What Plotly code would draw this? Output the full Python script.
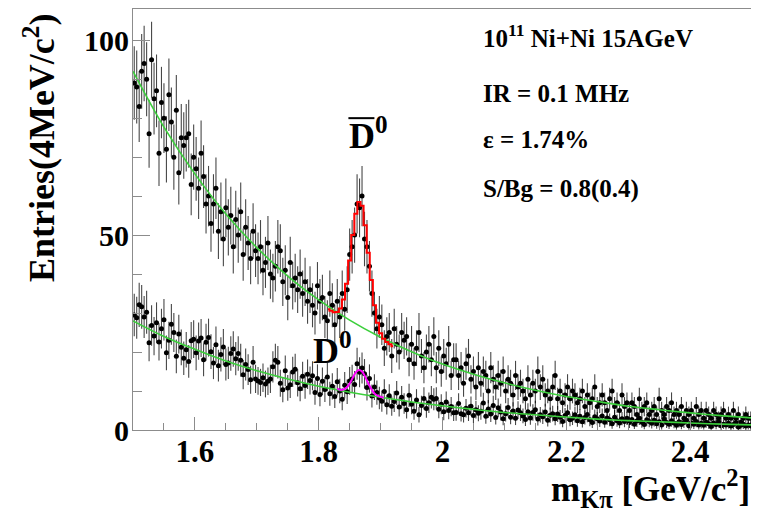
import numpy as np
import plotly.graph_objects as go

# ---- data -------------------------------------------------------------
bin_lo, bin_w, n_bins = 1.5, 0.004, 250
mass = [round(bin_lo + bin_w * (i + 0.5), 4) for i in range(n_bins)]

dbar_counts = [
    89, 88, 83, 92, 94, 90, 76, 95, 85, 87,
    71, 84, 80, 72, 86, 79, 70, 82, 66, 75,
    73, 75, 76, 63, 70, 67, 62, 71, 65, 58,
    60, 53, 58, 62, 51, 56, 49, 57, 52, 55,
    47, 54, 50, 56, 45, 52, 48, 44, 51, 46,
    44, 47, 41, 43, 48, 40, 39, 42, 47, 46,
    38, 41, 34, 43, 37, 39, 36, 40, 35, 38,
    33, 36, 32, 30, 37, 33, 34, 29, 28, 35,
    32, 27, 33, 29, 35, 31, 36, 45, 47, 50,
    58, 57, 60, 49, 47, 42, 35, 30, 26, 29,
    27, 21, 24, 25, 19, 26, 22, 20, 25, 23,
    24, 18, 22, 17, 21, 25, 19, 16, 20, 22,
    18, 24, 16, 21, 15, 19, 17, 22, 14, 18,
    18, 14, 16, 12, 17, 19, 13, 15, 11, 16,
    12, 15, 14, 10, 16, 13, 11, 14, 12, 15,
    10, 13, 12, 9, 14, 11, 12, 10, 8, 13,
    9, 12, 10, 15, 11, 13, 9, 10, 8, 11,
    14, 8, 10, 7, 9, 11, 8, 10, 9, 7,
    8, 10, 6, 9, 7, 8, 11, 6, 7, 9,
    7, 5, 8, 10, 6, 7, 5, 9, 6, 7,
    5, 7, 6, 4, 8, 5, 6, 7, 4, 5,
    6, 4, 8, 5, 4, 6, 5, 7, 4, 5,
    4, 6, 3, 5, 4, 5, 3, 6, 4, 5,
    3, 5, 4, 3, 5, 4, 3, 4, 5, 3,
    4, 3, 5, 3, 4, 2, 3, 4, 3, 3,
]

d0_counts = [
    29.5, 28.8, 32.1, 31.6, 29.0, 30.2, 22.4, 26.8, 24.1, 27.5,
    22.6, 26.0, 28.3, 19.8, 23.0, 27.1, 25.0, 18.9, 24.6, 21.2,
    18.4, 20.6, 17.6, 22.9, 23.3, 19.8, 22.8, 23.6, 18.0, 22.5,
    23.7, 20.1, 17.2, 21.9, 16.5, 19.4, 21.3, 16.8, 17.2, 19.6,
    20.8, 18.3, 19.6, 17.9, 14.2, 16.8, 15.5, 12.9, 17.4, 13.1,
    12.6, 12.2, 13.4, 11.8, 12.5, 13.1, 16.2, 17.9, 17.4, 12.0,
    10.3, 15.2, 10.8, 11.6, 14.9, 15.6, 12.1, 10.6, 13.8, 11.4,
    14.3, 12.7, 13.9, 9.6, 13.2, 9.1, 12.5, 10.4, 13.6, 9.3,
    11.2, 8.6, 12.4, 10.0, 7.9, 11.5, 9.8, 12.6, 13.1, 11.7,
    17.0, 14.8, 15.9, 14.4, 10.9, 13.2, 8.7, 11.0, 9.6, 8.2,
    7.4, 9.9, 6.5, 8.8, 6.1, 7.3, 9.5, 5.9, 8.4, 6.8,
    5.2, 8.9, 6.6, 4.8, 7.7, 3.9, 6.3, 8.1, 5.5, 7.0,
    8.4, 7.9, 8.1, 5.3, 6.6, 4.7, 7.2, 5.0, 6.0, 4.4,
    4.5, 6.8, 4.2, 3.9, 5.6, 4.4, 6.1, 3.7, 5.2, 4.3,
    4.8, 6.9, 3.5, 5.4, 4.1, 6.3, 3.2, 5.7, 4.6, 2.9,
    4.2, 5.8, 3.3, 4.9, 3.0, 5.1, 4.4, 3.6, 2.7, 4.7,
    3.1, 4.5, 5.2, 2.8, 3.9, 3.4, 4.6, 2.5, 3.8, 4.2,
    2.9, 4.1, 3.3, 2.2, 3.7, 4.4, 2.6, 3.0, 3.9, 2.4,
    3.5, 2.1, 3.2, 4.0, 2.6, 1.9, 3.4, 2.9, 2.3, 3.6,
    2.0, 3.1, 2.6, 1.6, 3.3, 2.4, 1.8, 2.9, 2.2, 3.0,
    1.9, 2.7, 1.5, 2.3, 3.0, 2.0, 1.4, 2.6, 2.2, 1.7,
    2.5, 1.6, 2.1, 1.3, 2.8, 1.9, 1.5, 2.4, 1.8, 1.2,
    2.1, 1.4, 1.9, 2.5, 1.1, 1.8, 1.5, 2.2, 1.3, 1.7,
    1.2, 2.0, 1.6, 0.9, 1.8, 1.4, 2.1, 1.1, 1.5, 1.3,
    1.7, 1.0, 1.4, 1.9, 0.8, 1.2, 1.5, 1.0, 1.3, 1.1,
]

# background fits (green)
fit_mass = [1.50, 1.55, 1.60, 1.65, 1.70, 1.75, 1.80, 1.85, 1.90, 1.95, 2.00,
            2.05, 2.10, 2.15, 2.20, 2.25, 2.30, 2.35, 2.40, 2.45, 2.50]
dbar_bg_fit = [92.0, 77.7, 65.7, 55.4, 46.8, 39.5, 33.4, 28.2, 23.8, 20.1, 16.9,
               14.3, 12.1, 10.2, 8.6, 7.3, 6.1, 5.2, 4.4, 3.7, 3.1]
d0_bg_fit = [28.0, 24.0, 20.7, 17.7, 15.2, 13.1, 11.2, 9.7, 8.4, 7.2, 6.2,
             5.3, 4.5, 3.9, 3.3, 2.8, 2.4, 2.1, 1.8, 1.5, 1.3]

# signal + background fits
peak_mass = [1.815, 1.820, 1.825, 1.830, 1.835, 1.840, 1.845, 1.850, 1.855, 1.860, 1.865,
             1.870, 1.875, 1.880, 1.885, 1.890, 1.895, 1.900, 1.905, 1.910, 1.915, 1.920]
dbar_peak_fit = [31.0, 30.6, 30.2, 30.3, 31.2, 33.5, 37.5, 43.5, 50.0, 55.5, 58.5,
                 57.5, 52.5, 45.5, 38.5, 32.0, 27.5, 24.8, 23.4, 22.6, 22.0, 21.5]
d0_peak_mass = [1.830, 1.835, 1.840, 1.845, 1.850, 1.855, 1.860, 1.865, 1.870,
                1.875, 1.880, 1.885, 1.890, 1.895, 1.900, 1.905]
d0_peak_fit = [10.6, 10.3, 10.4, 10.9, 11.9, 13.4, 14.8, 15.4, 15.0,
               13.7, 12.0, 10.5, 9.4, 8.8, 8.5, 8.3]

info_lines = ["10<sup>11</sup> Ni+Ni 15AGeV", "IR = 0.1 MHz", "ε = 1.74%", "S/Bg = 0.8(0.4)"]

# ---- figure -----------------------------------------------------------
SERIF = "Liberation Serif"
fig = go.Figure()

for counts in (dbar_counts, d0_counts):
    c = np.array(counts, dtype=float)
    fig.add_trace(go.Scatter(
        x=mass, y=c, mode="markers",
        marker=dict(color="black", size=5),
        error_y=dict(type="data", array=np.sqrt(c), width=0, thickness=1.1,
                     color="rgba(0,0,0,0.72)"),
        showlegend=False, hoverinfo="skip"))

for fy in (dbar_bg_fit, d0_bg_fit):
    fig.add_trace(go.Scatter(x=fit_mass, y=fy, mode="lines",
                             line=dict(color="#3ccf3c", width=1.6, shape="spline"),
                             showlegend=False, hoverinfo="skip"))

fig.add_trace(go.Scatter(x=peak_mass, y=dbar_peak_fit, mode="lines",
                         line=dict(color="#ff0000", width=2, shape="hvh"),
                         showlegend=False, hoverinfo="skip"))
fig.add_trace(go.Scatter(x=d0_peak_mass, y=d0_peak_fit, mode="lines",
                         line=dict(color="#ff00ff", width=2, shape="spline"),
                         showlegend=False, hoverinfo="skip"))

axis_col = "#8c8c8c"
fig.update_xaxes(range=[1.5, 2.5], showgrid=False, zeroline=False,
                 showline=True, linecolor=axis_col, linewidth=1, mirror=True,
                 ticks="inside", ticklen=13, tickcolor=axis_col,
                 tickvals=[1.6, 1.8, 2.0, 2.2, 2.4], ticktext=["1.6", "1.8", "2", "2.2", "2.4"],
                 minor=dict(dtick=0.05, tick0=1.5, ticks="inside", ticklen=7, tickcolor=axis_col),
                 tickfont=dict(family=SERIF, size=31, color="black", weight="bold"),
                 ticklabelstandoff=-6)
fig.update_yaxes(range=[0, 108], showgrid=False, zeroline=False,
                 showline=True, linecolor=axis_col, linewidth=1, mirror=True,
                 ticks="inside", ticklen=17, tickcolor=axis_col,
                 tickvals=[0, 50, 100],
                 minor=dict(dtick=10, tick0=0, ticks="inside", ticklen=9, tickcolor=axis_col),
                 tickfont=dict(family=SERIF, size=30, color="black", weight="bold"),
                 ticklabelstandoff=-3)

annots = []
# axis titles
annots.append(dict(text="Entries(4MeV/c<sup>2</sup>)", textangle=-90, xref="paper", yref="paper",
                   x=-0.15, y=0.67, xanchor="center", yanchor="middle", showarrow=False,
                   font=dict(family=SERIF, size=36, color="black", weight="bold")))
annots.append(dict(text="m<sub>Kπ</sub> [GeV/c<sup>2</sup>]", xref="paper", yref="paper",
                   x=1.0, y=-0.14, xanchor="right", yanchor="middle", showarrow=False,
                   font=dict(family=SERIF, size=35, color="black", weight="bold")))
# info text
for txt, yp in zip(info_lines, [0.936, 0.800, 0.689, 0.572]):
    annots.append(dict(text=txt, xref="paper", yref="paper", x=0.563, y=yp,
                       xanchor="left", yanchor="middle", showarrow=False,
                       font=dict(family=SERIF, size=25, color="black", weight="bold")))
# particle labels
annots.append(dict(text="D<sup>0</sup>", xref="x", yref="y", x=1.845, y=76,
                   xanchor="left", yanchor="middle", showarrow=False,
                   font=dict(family=SERIF, size=36, color="black", weight="bold")))
annots.append(dict(text="D<sup>0</sup>", xref="x", yref="y", x=1.787, y=21,
                   xanchor="left", yanchor="middle", showarrow=False,
                   font=dict(family=SERIF, size=36, color="black", weight="bold")))

# page body adds an 8px offset, so the figure is sized/margined to land the frame
# at the same screen position as the reference
fig.update_layout(
    width=751, height=507,
    margin=dict(l=125, r=7, t=1, b=85, autoexpand=False),
    paper_bgcolor="white", plot_bgcolor="white",
    annotations=annots,
    shapes=[dict(type="line", xref="x", yref="y", x0=1.848, x1=1.890, y0=80, y1=80,
                 line=dict(color="black", width=2))],
)

fig.write_html("out.html")
